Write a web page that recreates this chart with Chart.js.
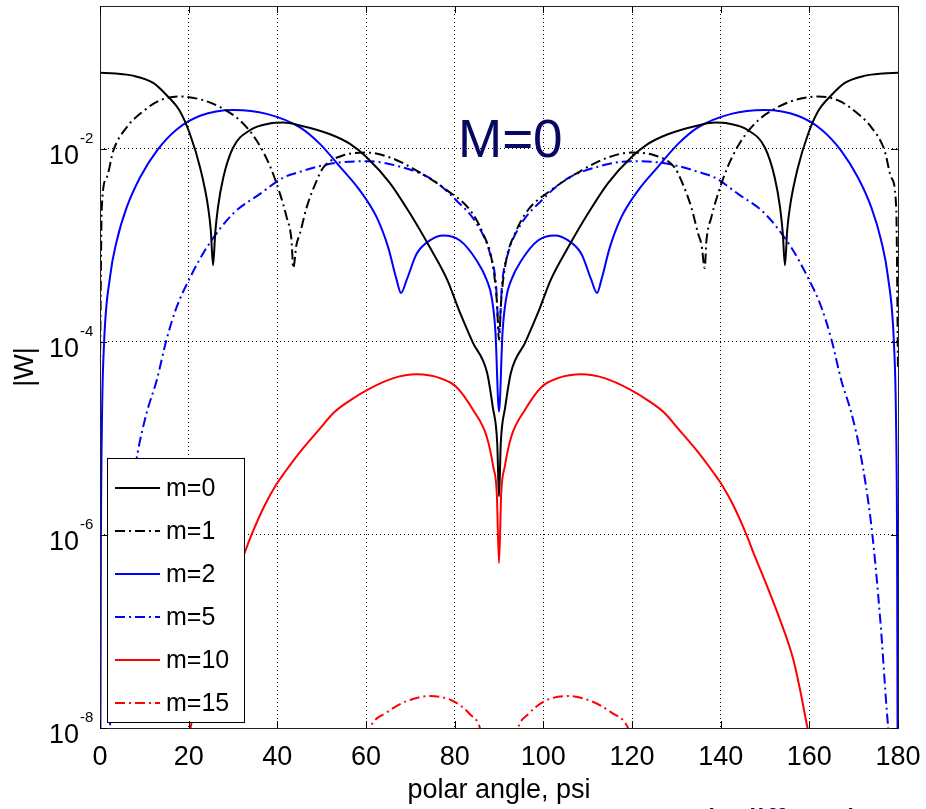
<!DOCTYPE html>
<html>
<head>
<meta charset="utf-8">
<title>|W| versus polar angle</title>
<script src="https://cdn.jsdelivr.net/npm/chart.js@4.4.1/dist/chart.umd.min.js"></script>
<style>
  body { margin: 0; background: #fff; }
  #wrap { position: relative; width: 926px; height: 809px; overflow: hidden; }
  .note { position: absolute; font-family: "Liberation Sans", Arial, sans-serif; color: #070763; white-space: nowrap; line-height: 1; }
</style>
</head>
<body>
<div id="wrap">
  <canvas id="wChart" width="926" height="809"></canvas>
  <div class="note" style="left:458px; top:112px; font-size:53px;">M=0</div>
  <div class="note" style="left:632px; top:804px; font-size:37px;">Weak diffraction</div>
</div>
<script>
// Values: polar angle (deg) and |W| for each m

const angM0 = [0, 3.5, 7.4, 12, 15.1, 18, 20.3, 22.6, 24.4, 25, 25.5, 26, 26.6, 27.8, 30, 33.8, 38.3, 41.3, 45.1, 51.9, 56.4, 60.2, 65.4, 69.9, 74.4, 78.3, 81.2, 84.1, 87.3, 88.6, 89.6, 90,
  90.4, 91.4, 92.7, 95.9, 98.8, 101.7, 105.6, 110.1, 114.6, 119.8, 123.6, 128.1, 134.9, 138.7, 141.7, 146.2, 150, 152.2, 153.4, 154, 154.5, 155, 155.6, 157.4, 159.7, 162, 164.9, 168, 172.6, 176.5, 180];
const wM0 = [6.1e-2, 6.0e-2, 5.7e-2, 4.8e-2, 3.55e-2, 2.45e-2, 1.41e-2, 6.3e-3, 2.45e-3, 1.41e-3, 6.2e-4, 1.35e-3, 2.45e-3, 5.0e-3, 1.02e-2, 1.55e-2, 1.82e-2, 1.86e-2, 1.74e-2, 1.41e-2, 1.12e-2, 8.1e-3, 4.4e-3, 2.14e-3, 9.5e-4, 4.4e-4, 2.0e-4, 9.8e-5, 4.8e-5, 2.1e-5, 8.9e-6, 2.5e-6,
  8.9e-6, 2.1e-5, 4.8e-5, 9.8e-5, 2.0e-4, 4.4e-4, 9.5e-4, 2.14e-3, 4.4e-3, 8.1e-3, 1.12e-2, 1.41e-2, 1.74e-2, 1.86e-2, 1.82e-2, 1.55e-2, 1.02e-2, 5.0e-3, 2.45e-3, 1.35e-3, 6.2e-4, 1.41e-3, 2.45e-3, 6.3e-3, 1.41e-2, 2.45e-2, 3.55e-2, 4.8e-2, 5.7e-2, 6.0e-2, 6.1e-2];

const angM1 = [0, 0.4, 1.5, 3, 6, 9.8, 13.5, 18, 22.6, 27.1, 31.6, 35.4, 38.4, 40.6, 42.1, 43.2, 43.6, 44.3, 45.1, 46.6, 48.9, 50.3, 54.8, 60.2, 65.4, 71.5, 78.3, 83.5, 86.4, 88.4, 89.5, 90,
  90.5, 91.6, 93.6, 96.5, 101.7, 108.5, 114.6, 119.8, 125.2, 129.7, 131.1, 133.4, 134.9, 135.7, 136.4, 136.8, 137.9, 139.4, 141.6, 144.6, 148.4, 152.9, 157.4, 162, 166.5, 170.2, 174, 177, 178.5, 179.6, 180];
const wM1 = [5e-5, 2.45e-3, 5.0e-3, 9.5e-3, 1.66e-2, 2.45e-2, 3.16e-2, 3.47e-2, 3.24e-2, 2.69e-2, 1.95e-2, 1.2e-2, 6.5e-3, 3.4e-3, 1.95e-3, 1.12e-3, 5.8e-4, 1.0e-3, 1.32e-3, 2.45e-3, 4.7e-3, 6.3e-3, 8.5e-3, 9.1e-3, 8.1e-3, 5.9e-3, 3.7e-3, 2.3e-3, 1.32e-3, 6.9e-4, 2.7e-4, 1.05e-4,
  2.7e-4, 6.9e-4, 1.32e-3, 2.3e-3, 3.7e-3, 5.9e-3, 8.1e-3, 9.1e-3, 8.5e-3, 6.3e-3, 4.7e-3, 2.45e-3, 1.32e-3, 1.0e-3, 5.8e-4, 1.12e-3, 1.95e-3, 3.4e-3, 6.5e-3, 1.2e-2, 1.95e-2, 2.69e-2, 3.24e-2, 3.47e-2, 3.16e-2, 2.45e-2, 1.66e-2, 9.5e-3, 5.0e-3, 2.45e-3, 5e-5];

const angM2 = [0, 0.1, 0.2, 0.45, 0.9, 2.26, 3.8, 6, 9, 12.8, 17.3, 22.6, 30.1, 37.6, 45.1, 49.6, 54.1, 58.6, 62.4, 65, 66.9, 67.9, 69.2, 71.4, 74.4, 77.4, 81.2, 85, 87.2, 88.4, 89.2, 90,
  90.8, 91.6, 92.8, 95, 98.8, 102.6, 105.6, 108.6, 110.8, 112.1, 113.1, 115, 117.6, 121.4, 125.9, 130.4, 134.9, 142.4, 149.9, 157.4, 162.7, 167.2, 171, 174, 176.2, 177.74, 179.1, 179.55, 179.8, 179.9, 180];
const wM2 = [1e-9, 1e-8, 7e-7, 1.6e-5, 9.3e-5, 4.7e-4, 1.12e-3, 2.45e-3, 5.0e-3, 9.5e-3, 1.58e-2, 2.19e-2, 2.51e-2, 2.29e-2, 1.66e-2, 1.12e-2, 6.5e-3, 3.7e-3, 1.95e-3, 9.5e-4, 4.4e-4, 3.2e-4, 4.4e-4, 8.1e-4, 1.12e-3, 1.26e-3, 1.12e-3, 6.9e-4, 4.4e-4, 2.8e-4, 1.26e-4, 1.9e-5,
  1.26e-4, 2.8e-4, 4.4e-4, 6.9e-4, 1.12e-3, 1.26e-3, 1.12e-3, 8.1e-4, 4.4e-4, 3.2e-4, 4.4e-4, 9.5e-4, 1.95e-3, 3.7e-3, 6.5e-3, 1.12e-2, 1.66e-2, 2.29e-2, 2.51e-2, 2.19e-2, 1.58e-2, 9.5e-3, 5.0e-3, 2.45e-3, 1.12e-3, 4.7e-4, 9.3e-5, 1.6e-5, 7e-7, 1e-8, 1e-9];

const angM5 = [0, 2.2, 2.5, 4, 6, 8.5, 10.5, 12.8, 15, 17.3, 20.3, 24.1, 30.1, 36.1, 41.3, 45.1, 49.6, 54.1, 60.2, 67.7, 75.2, 80.4, 85, 88, 89.3, 90,
  90.7, 92, 95, 99.6, 104.8, 112.3, 119.8, 125.9, 130.4, 134.9, 138.7, 143.9, 149.9, 155.9, 159.7, 162.7, 165, 167.2, 169.5, 171.5, 174, 176, 177.5, 177.8, 180];
const wM5 = [1e-9, 1e-8, 1.45e-8, 1.32e-7, 1.23e-6, 7.1e-6, 1.82e-5, 4.0e-5, 1.05e-4, 2.29e-4, 4.6e-4, 9.5e-4, 2.14e-3, 3.4e-3, 5.0e-3, 5.75e-3, 6.6e-3, 7.2e-3, 7.4e-3, 6.5e-3, 4.7e-3, 2.9e-3, 1.66e-3, 8.1e-4, 4.0e-4, 1.26e-4,
  4.0e-4, 8.1e-4, 1.66e-3, 2.9e-3, 4.7e-3, 6.5e-3, 7.4e-3, 7.2e-3, 6.6e-3, 5.75e-3, 5.0e-3, 3.4e-3, 2.14e-3, 9.5e-4, 4.6e-4, 2.29e-4, 1.05e-4, 4.0e-5, 1.82e-5, 7.1e-6, 1.23e-6, 1.32e-7, 1.45e-8, 1e-8, 1e-9];

const angM10 = [19, 20.5, 22.1, 23.6, 26.6, 29.6, 32.6, 34.1, 37.1, 39.9, 41.6, 45.1, 49.6, 52.6, 56, 60.2, 66.2, 71.4, 76.7, 80.4, 84.2, 87.2, 88.7, 89.5, 90,
  90.5, 91.3, 92.8, 95.8, 99.6, 103.3, 108.6, 113.8, 119.8, 124, 127.4, 130.4, 134.9, 138.4, 140.1, 142.9, 145.9, 147.4, 150.4, 153.4, 156.4, 157.9, 159.5, 161];
const wM10 = [5e-9, 1.05e-8, 2.5e-8, 5.1e-8, 1.32e-7, 3.0e-7, 6.5e-7, 9.8e-7, 2.0e-6, 3.4e-6, 4.4e-6, 7.2e-6, 1.26e-5, 1.82e-5, 2.4e-5, 3.16e-5, 4.2e-5, 4.6e-5, 4.2e-5, 3.4e-5, 1.95e-5, 1.05e-5, 5.1e-6, 2.7e-6, 5.1e-7,
  2.7e-6, 5.1e-6, 1.05e-5, 1.95e-5, 3.4e-5, 4.2e-5, 4.6e-5, 4.2e-5, 3.16e-5, 2.4e-5, 1.82e-5, 1.26e-5, 7.2e-6, 4.4e-6, 3.4e-6, 2.0e-6, 9.8e-7, 6.5e-7, 3.0e-7, 1.32e-7, 5.1e-8, 2.5e-8, 1.05e-8, 5e-9];

const angM15 = [59, 60.9, 64.7, 69.2, 74.4, 79.7, 83.5, 85.7, 87, 90, 93, 94.3, 96.5, 100.3, 105.6, 110.8, 115.3, 119.1, 121];
const wM15 = [5e-9, 1e-8, 1.45e-8, 1.9e-8, 2.14e-8, 1.9e-8, 1.38e-8, 1e-8, 5e-9, 1e-10, 5e-9, 1e-8, 1.38e-8, 1.9e-8, 2.14e-8, 1.9e-8, 1.45e-8, 1e-8, 5e-9];

const seriesLabels = ['m=0', 'm=1', 'm=2', 'm=5', 'm=10', 'm=15'];
const yTickValues = [1e-8, 1e-6, 1e-4, 1e-2];
const yTickExps = ['-8', '-6', '-4', '-2'];

const FONT = '"Liberation Sans", Arial, Helvetica, sans-serif';
const DASHDOT = [10, 4, 2, 4];

// pair angles with values
function toPoints(angles, values) {
    return angles.map((a, i) => ({ x: a, y: values[i] }));
}

function makeSet(label, angles, values, color, dashed) {
    return {
        label: label,
        data: toPoints(angles, values),
        borderColor: color,
        borderWidth: 2,
        borderDash: dashed ? DASHDOT : [],
        pointRadius: 0,
        cubicInterpolationMode: 'monotone',
        fill: false
    };
}

// legend box in the lower left corner of the plot
const boxLegend = {
    id: 'boxLegend',
    afterDatasetsDraw(chart) {
        const { ctx, chartArea } = chart;
        const x0 = chartArea.left + 7;
        const y1 = chartArea.bottom - 6;
        const w = 137, h = 264, rowH = 43;
        const y0 = y1 - h;
        ctx.save();
        ctx.fillStyle = '#fff';
        ctx.fillRect(x0, y0, w, h);
        ctx.strokeStyle = '#000';
        ctx.lineWidth = 1;
        ctx.strokeRect(x0 + 0.5, y0 + 0.5, w, h);
        chart.data.datasets.forEach((ds, i) => {
            const y = y0 + 30 + i * rowH;
            ctx.strokeStyle = ds.borderColor;
            ctx.lineWidth = 2;
            ctx.setLineDash(ds.borderDash);
            ctx.beginPath();
            ctx.moveTo(x0 + 8, y);
            ctx.lineTo(x0 + 53, y);
            ctx.stroke();
            ctx.setLineDash([]);
            ctx.fillStyle = '#000';
            ctx.font = '25px ' + FONT;
            ctx.textAlign = 'left';
            ctx.textBaseline = 'middle';
            ctx.fillText(ds.label, x0 + 59, y + 1);
        });
        ctx.restore();
    }
};

// box round the plot, inward tick marks and 10^n labels
const axisBox = {
    id: 'axisBox',
    afterDraw(chart) {
        const { ctx, chartArea: a, scales } = chart;
        ctx.save();
        ctx.strokeStyle = '#222';
        ctx.lineWidth = 1;
        ctx.strokeRect(a.left + 0.5, a.top + 0.5, a.right - a.left, a.bottom - a.top);
        ctx.strokeStyle = '#000';
        ctx.beginPath();
        scales.x.ticks.forEach(t => {
            const x = Math.round(scales.x.getPixelForValue(t.value)) + 0.5;
            ctx.moveTo(x, a.bottom); ctx.lineTo(x, a.bottom - 7);
            ctx.moveTo(x, a.top); ctx.lineTo(x, a.top + 7);
        });
        yTickValues.forEach(v => {
            const y = Math.round(scales.y.getPixelForValue(v)) + 0.5;
            ctx.moveTo(a.left, y); ctx.lineTo(a.left + 7, y);
            ctx.moveTo(a.right, y); ctx.lineTo(a.right - 7, y);
        });
        ctx.stroke();

        ctx.fillStyle = '#000';
        ctx.textBaseline = 'alphabetic';
        yTickValues.forEach((v, i) => {
            const y = scales.y.getPixelForValue(v);
            ctx.font = '27px ' + FONT;
            ctx.textAlign = 'right';
            ctx.fillText('10', a.left - 21, y + 15);
            ctx.font = '15px ' + FONT;
            ctx.textAlign = 'left';
            ctx.fillText(yTickExps[i], a.left - 20, y - 6);
        });
        ctx.restore();
    }
};

function drawChart() {
    const canvas = document.getElementById('wChart');
    new Chart(canvas, {
        type: 'line',
        data: {
            datasets: [
                makeSet(seriesLabels[0], angM0, wM0, '#000000', false),
                makeSet(seriesLabels[1], angM1, wM1, '#000000', true),
                makeSet(seriesLabels[2], angM2, wM2, '#0000ff', false),
                makeSet(seriesLabels[3], angM5, wM5, '#0000ff', true),
                makeSet(seriesLabels[4], angM10, wM10, '#ff0000', false),
                makeSet(seriesLabels[5], angM15, wM15, '#ff0000', true)
            ]
        },
        options: {
            responsive: false,
            animation: false,
            events: [],
            layout: { padding: { top: 6, right: 28, left: 0, bottom: 0 } },
            plugins: {
                legend: { display: false },
                tooltip: { enabled: false }
            },
            scales: {
                x: {
                    type: 'linear',
                    min: 0,
                    max: 180,
                    // fixed axis height, and no extra room for the end labels
                    afterFit: (scale) => {
                        scale.height = 81;
                        scale.paddingLeft = 0;
                        scale.paddingRight = 0;
                    },
                    ticks: { stepSize: 20, color: '#000', font: { size: 27 }, padding: 13, maxRotation: 0, autoSkip: false },
                    grid: { color: '#000', drawTicks: false },
                    border: { display: false, dash: [1, 3] },
                    title: { display: true, text: 'polar angle, psi', color: '#000', font: { size: 27 }, padding: { top: 0, bottom: 2 } }
                },
                y: {
                    type: 'logarithmic',
                    min: 1e-8,
                    max: 0.3,
                    afterBuildTicks: (scale) => { scale.ticks = yTickValues.map(v => ({ value: v })); },
                    afterFit: (scale) => { scale.width = 100; },
                    ticks: { display: false },
                    grid: { color: '#000', drawTicks: false },
                    border: { display: false, dash: [1, 3] },
                    title: { display: true, text: '|W|', color: '#000', font: { size: 27 }, padding: { top: 9, bottom: 0 } }
                }
            }
        },
        plugins: [boxLegend, axisBox]
    });
}

Chart.defaults.font.family = FONT;
document.addEventListener('DOMContentLoaded', drawChart);
</script>
</body>
</html>
